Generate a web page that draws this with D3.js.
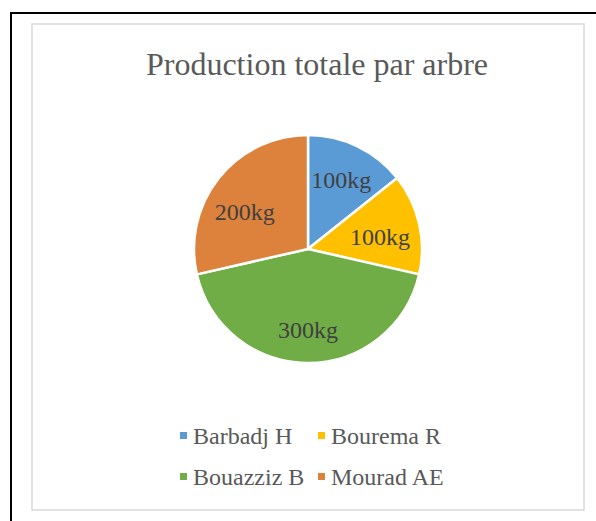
<!DOCTYPE html>
<html lang="fr">
<head>
    <meta charset="UTF-8">
    <title>Production totale par arbre</title>
    <script src="https://d3js.org/d3.v7.min.js"></script>
    <style>
        body { margin: 0; background: #fff; }
        svg text { font-family: "Liberation Serif", "Times New Roman", serif; }
    </style>
</head>
<body>
<svg width="596" height="521"></svg>
<script>
    // data
    var names = ["Barbadj H", "Bourema R", "Bouazziz B", "Mourad AE"];
    var values = [100, 100, 300, 200];
    var labels = ["100kg", "100kg", "300kg", "200kg"];
    var colors = ["#5B9BD5", "#FFC000", "#70AD47", "#DC823C"];

    var svg = d3.select("svg");

    // outer black frame (runs off the right and bottom edges)
    svg.append("rect")
        .attr("x", 11).attr("y", 13)
        .attr("width", 600).attr("height", 520)
        .attr("fill", "none")
        .attr("stroke", "#000")
        .attr("stroke-width", 2);

    // chart area border
    svg.append("rect")
        .attr("x", 32).attr("y", 24)
        .attr("width", 552).attr("height", 486)
        .attr("fill", "#fff")
        .attr("stroke", "#d9d9d9")
        .attr("stroke-width", 1.5);

    svg.append("text")
        .attr("x", 317).attr("y", 75)
        .attr("text-anchor", "middle")
        .style("font-size", "32px")
        .attr("fill", "#595959")
        .text("Production totale par arbre");

    var cx = 308, cy = 249, r = 114;
    var pie = d3.pie().sort(null).value(d => d.value);
    var data = names.map((n, i) => ({name: n, value: values[i], label: labels[i], color: colors[i]}));
    var arcs = pie(data);

    var arc = d3.arc().innerRadius(0).outerRadius(r);
    // excel nudges labels a bit; per-slice radius factor and angle shift
    var labelR = [0.67, 0.64, 0.71, 0.64];
    var labelShift = [0, 0.06, 0, -0.15];
    function labelPos(d, i) {
        var a = (d.startAngle + d.endAngle) / 2 + labelShift[i];
        var rr = r * labelR[i];
        return [Math.sin(a) * rr, -Math.cos(a) * rr];
    }

    var g = svg.append("g").attr("transform", "translate(" + cx + "," + cy + ")");

    g.selectAll("path")
        .data(arcs)
        .enter()
        .append("path")
        .attr("d", arc)
        .attr("fill", d => d.data.color)
        .attr("stroke", "#fff")
        .attr("stroke-width", 2.5)
        .attr("stroke-linejoin", "round");

    g.selectAll("text.lbl")
        .data(arcs)
        .enter()
        .append("text")
        .attr("class", "lbl")
        .attr("transform", (d, i) => "translate(" + labelPos(d, i) + ")")
        .attr("text-anchor", "middle")
        .attr("dy", "0.33em")
        .style("font-size", "24px")
        .attr("fill", "#404040")
        .text(d => d.data.label);

    // legend, two columns by two rows
    var colX = [180, 318];
    var rowY = [444, 485];
    var leg = svg.append("g")
        .selectAll("g")
        .data(data)
        .enter()
        .append("g")
        .attr("transform", (d, i) => "translate(" + colX[i % 2] + "," + rowY[Math.floor(i / 2)] + ")");

    leg.append("rect")
        .attr("x", 0).attr("y", -12)
        .attr("width", 7).attr("height", 7)
        .attr("fill", d => d.color);

    leg.append("text")
        .attr("x", 13)
        .style("font-size", "24px")
        .attr("fill", "#595959")
        .text(d => d.name);
</script>
</body>
</html>
